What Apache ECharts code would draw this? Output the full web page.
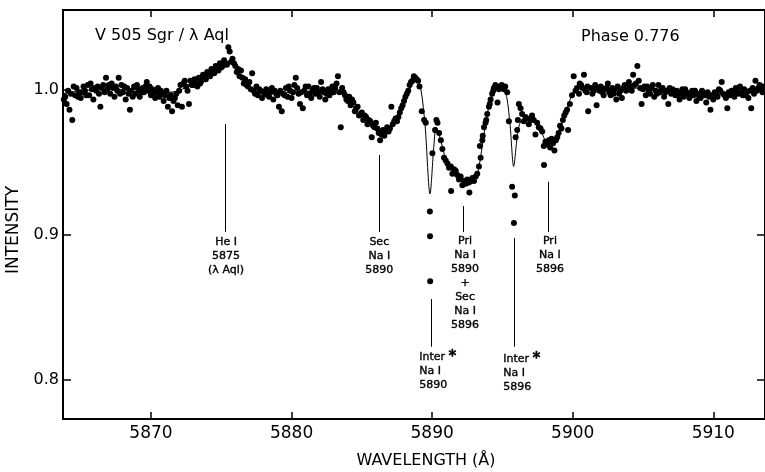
<!DOCTYPE html>
<html><head><meta charset="utf-8">
<script src="https://cdn.jsdelivr.net/npm/echarts@6/dist/echarts.min.js"></script>
<style>html,body{margin:0;padding:0;background:#fff}#c{width:765px;height:472px}</style>
</head><body><div id="c"></div>
<script>
// ---- axis ranges and ticks ----
const X_MIN = 5863.74, X_MAX = 5913.68;
const Y_MIN = 0.7732, Y_MAX = 1.0546;
const xTicks = [5870, 5880, 5890, 5900, 5910];
const yTicks = [0.8, 0.9, 1.0];

// ---- observed spectrum (wavelength Å, relative intensity) ----
const spectrumA = [[5863.9,0.995],[5864.0,0.990],[5864.2,0.986],[5864.3,0.997],[5864.4,0.979],[5864.6,0.996],[5864.7,1.001],[5864.9,0.998],[5865.0,0.994],[5865.2,1.002],[5865.3,0.999],[5865.5,1.003],[5865.6,0.996],[5865.8,1.000],[5865.9,0.993],[5866.1,0.999],[5866.2,1.002],[5866.4,0.988],[5866.5,1.001],[5866.7,0.998],[5866.8,1.008],[5867.0,1.003],[5867.1,0.997],[5867.3,1.001],[5867.4,0.995],[5867.6,0.999],[5867.7,1.008],[5867.9,1.003],[5868.0,0.998],[5868.2,0.993],[5868.3,1.001],[5868.5,0.986],[5868.6,0.999],[5868.8,1.002],[5868.9,0.997],[5869.1,1.000],[5869.2,0.995],[5869.4,1.001],[5869.5,0.998],[5869.7,1.005],[5869.8,0.999],[5870.0,0.996],[5870.1,1.000],[5870.3,0.994],[5870.4,0.998],[5870.6,0.995],[5870.7,0.999],[5870.9,0.992],[5871.0,0.996],[5871.2,0.988],[5871.3,0.994],[5871.5,0.985],[5871.6,0.992],[5871.8,0.997],[5871.9,0.989]];
const spectrumA2 = [[5863.8,0.993],[5864.1,0.999],[5864.5,1.002],[5864.8,0.995],[5865.1,0.998],[5865.4,0.996],[5865.7,1.004],[5866.0,1.001],[5866.3,0.997],[5866.6,1.003],[5866.9,1.000],[5867.2,1.004],[5867.5,1.002],[5867.8,0.997],[5868.1,1.002],[5868.4,0.997],[5868.7,0.995],[5869.0,1.003],[5869.3,0.998],[5869.6,1.002],[5869.9,1.002],[5870.2,0.997],[5870.5,1.001],[5870.8,0.997],[5871.1,0.999],[5871.4,0.996],[5871.7,0.994],[5872.0,0.999]];
const spectrumB = [[5872.1,1.003],[5872.2,0.988],[5872.4,1.006],[5872.5,1.002],[5872.7,0.990],[5872.8,1.006],[5873.0,1.003],[5873.1,1.007],[5873.3,1.002],[5873.4,1.008],[5873.6,1.006],[5873.7,1.010],[5873.9,1.007],[5874.0,1.012],[5874.2,1.009],[5874.3,1.014],[5874.5,1.011],[5874.6,1.016],[5874.8,1.013],[5874.9,1.018],[5875.1,1.016],[5875.2,1.020],[5875.4,1.017],[5875.5,1.029],[5875.6,1.026],[5875.7,1.019],[5875.8,1.021],[5876.0,1.016],[5876.1,1.012],[5876.3,1.009],[5876.4,1.013],[5876.6,1.004],[5876.7,1.007],[5876.9,1.002],[5877.0,1.005],[5877.2,1.011],[5877.3,0.999],[5877.5,1.002]];
const spectrumB2 = [[5872.3,1.004],[5872.6,0.999],[5872.9,1.003],[5873.2,1.005],[5873.5,1.004],[5873.8,1.009],[5874.1,1.011],[5874.4,1.012],[5874.7,1.014],[5875.0,1.015],[5875.3,1.018],[5875.9,1.018],[5876.2,1.014],[5876.5,1.008],[5876.8,1.003],[5877.1,1.000],[5877.4,0.997]];
const spectrumC = [[5877.6,0.996],[5877.8,0.999],[5877.9,0.994],[5878.1,0.997],[5878.2,1.000],[5878.4,0.995],[5878.5,0.998],[5878.7,0.993],[5878.8,0.999],[5879.0,0.996],[5879.1,0.988],[5879.3,0.985],[5879.4,0.997],[5879.6,1.001],[5879.7,0.995],[5879.9,0.999],[5880.0,0.994],[5880.2,1.003],[5880.3,1.008],[5880.5,0.997],[5880.6,0.990],[5880.8,0.987],[5880.9,0.999],[5881.1,0.996],[5881.2,1.002],[5881.4,0.994],[5881.5,0.999],[5881.7,0.997],[5881.8,1.001],[5882.0,0.995],[5882.1,1.005],[5882.3,0.998],[5882.4,0.993],[5882.6,1.000],[5882.7,0.996],[5882.9,1.002],[5883.0,0.998],[5883.2,1.004],[5883.3,1.009]];
const spectrumC2 = [[5877.7,1.000],[5878.0,0.998],[5878.3,0.996],[5878.6,1.001],[5878.9,0.997],[5879.2,0.999],[5879.5,0.996],[5879.8,1.002],[5880.1,0.998],[5880.4,1.001],[5880.7,0.998],[5881.0,1.002],[5881.3,0.997],[5881.6,1.001],[5881.9,0.998],[5882.2,1.000],[5882.5,0.997],[5882.8,0.999],[5883.1,1.001]];
const spectrumD = [[5883.4,0.998],[5883.5,0.974],[5883.6,1.001],[5883.8,0.996],[5883.9,0.993],[5884.1,0.995],[5884.2,0.989],[5884.4,0.991],[5884.5,0.985],[5884.7,0.988],[5884.8,0.982],[5885.0,0.984],[5885.1,0.979],[5885.3,0.981],[5885.4,0.976],[5885.6,0.978],[5885.7,0.967],[5885.9,0.974],[5886.0,0.977],[5886.2,0.970],[5886.3,0.965],[5886.5,0.972],[5886.6,0.968],[5886.8,0.974],[5886.9,0.971],[5887.1,0.988],[5887.2,0.976],[5887.4,0.980],[5887.5,0.978],[5887.7,0.984],[5887.8,0.987],[5888.0,0.992],[5888.1,0.995],[5888.3,0.999],[5888.4,1.003],[5888.6,1.006],[5888.7,1.009],[5888.9,1.007]];
const spectrumD2 = [[5883.7,0.998],[5884.0,0.992],[5884.3,0.993],[5884.6,0.987],[5884.9,0.983],[5885.2,0.982],[5885.5,0.979],[5885.8,0.975],[5886.1,0.973],[5886.4,0.969],[5886.7,0.971],[5887.0,0.973],[5887.3,0.978],[5887.6,0.981],[5887.9,0.989],[5888.2,0.997],[5888.5,1.005],[5888.8,1.008]];
const spectrumE = [[5889.0,1.006],[5889.1,1.002],[5889.26,0.985],[5889.43,0.979],[5889.55,0.977],[5889.84,0.916],[5889.85,0.899],[5889.86,0.868],[5890.02,0.956],[5890.21,0.972],[5890.3,0.979],[5890.38,0.977],[5890.5,0.970],[5890.62,0.965],[5890.73,0.959],[5890.85,0.953],[5890.97,0.951],[5891.09,0.949],[5891.2,0.946],[5891.33,0.947],[5891.35,0.930],[5891.44,0.942],[5891.56,0.945],[5891.68,0.944],[5891.79,0.941],[5891.91,0.938],[5892.03,0.940],[5892.15,0.934],[5892.27,0.937],[5892.39,0.935],[5892.5,0.938],[5892.62,0.936],[5892.65,0.929],[5892.74,0.937],[5892.86,0.939],[5892.98,0.937],[5893.1,0.940],[5893.21,0.942],[5893.33,0.947],[5893.4,0.961],[5893.45,0.953],[5893.57,0.965],[5893.6,0.968],[5893.69,0.974],[5893.8,0.977],[5893.85,0.979],[5893.92,0.983],[5894.04,0.988],[5894.1,0.990],[5894.16,0.993],[5894.27,0.997],[5894.35,0.999],[5894.39,1.001],[5894.5,1.003],[5894.63,1.002],[5894.65,0.991],[5894.75,1.000],[5894.87,1.001],[5894.95,1.003],[5895.1,1.000],[5895.2,1.002],[5895.34,0.998],[5895.46,0.978],[5895.69,0.933],[5895.82,0.908],[5895.88,0.927],[5895.94,0.967],[5896.05,0.972],[5896.1,0.979],[5896.17,0.990],[5896.29,0.987],[5896.4,0.983],[5896.52,0.978],[5896.64,0.981],[5896.76,0.980],[5896.88,0.976],[5897.0,0.979],[5897.11,0.982],[5897.23,0.979],[5897.35,0.969],[5897.47,0.977],[5897.59,0.974],[5897.71,0.973],[5897.83,0.971],[5897.94,0.961],[5897.96,0.948],[5898.06,0.964],[5898.18,0.962],[5898.3,0.965],[5898.4,0.960],[5898.5,0.966],[5898.6,0.963],[5898.7,0.958],[5898.8,0.965],[5898.9,0.967],[5899.0,0.970],[5899.1,0.975],[5899.2,0.973],[5899.3,0.979],[5899.4,0.982],[5899.5,0.984],[5899.6,0.986],[5899.67,0.972],[5899.8,0.990],[5899.95,0.996],[5900.07,1.009],[5900.2,0.999],[5900.3,1.001],[5900.45,0.997],[5900.6,1.003],[5900.8,1.010],[5900.9,0.999]];
const spectrumF = [[5901.0,0.998],[5901.1,0.985],[5901.3,1.001],[5901.4,0.997],[5901.6,1.003],[5901.7,0.989],[5901.9,0.999],[5902.0,1.002],[5902.2,0.996],[5902.3,1.000],[5902.5,1.004],[5902.6,0.998],[5902.8,1.001],[5902.9,0.997],[5903.1,0.993],[5903.2,1.002],[5903.4,0.999],[5903.5,0.994],[5903.7,1.003],[5903.8,0.999],[5904.0,1.005],[5904.1,1.002],[5904.3,1.010],[5904.4,1.003],[5904.6,1.016],[5904.7,1.006],[5904.9,0.990],[5905.0,1.000],[5905.2,0.996],[5905.3,1.002],[5905.5,0.997],[5905.6,1.001],[5905.8,0.995],[5905.9,0.999],[5906.1,1.003],[5906.2,0.998],[5906.4,1.001],[5906.5,0.995],[5906.7,0.999],[5906.8,0.990],[5907.0,0.997],[5907.1,1.000],[5907.3,0.996],[5907.4,0.999],[5907.6,0.993],[5907.7,0.998],[5907.9,0.995],[5908.0,1.000],[5908.2,0.997],[5908.3,0.994],[5908.5,0.999],[5908.6,0.996],[5908.8,0.992],[5908.9,0.997],[5909.1,0.994],[5909.2,0.999],[5909.4,0.996],[5909.5,0.991],[5909.7,0.995],[5909.8,0.986],[5910.0,0.993],[5910.1,0.998],[5910.3,0.995],[5910.4,1.000],[5910.6,1.005],[5910.7,0.997],[5910.9,0.994],[5911.0,0.987],[5911.2,0.996],[5911.3,0.999],[5911.5,0.995],[5911.6,1.001],[5911.8,0.997],[5911.9,1.002],[5912.1,0.996],[5912.2,1.000],[5912.4,0.998],[5912.5,0.994],[5912.7,0.987],[5912.8,1.001],[5913.0,1.006],[5913.1,0.999],[5913.3,1.003],[5913.4,1.000]];
const spectrumF2 = [[5900.5,1.004],[5900.7,1.001],[5901.05,1.002],[5901.5,0.999],[5901.8,1.001],[5902.1,0.998],[5902.4,1.001],[5902.7,0.996],[5903.0,1.000],[5903.3,0.997],[5903.6,1.001],[5903.9,1.002],[5904.2,0.999],[5904.5,1.004],[5904.8,1.001],[5905.1,1.002],[5905.4,0.999],[5905.7,1.003],[5906.0,0.997],[5906.3,1.000],[5906.6,0.998],[5906.9,1.001],[5907.2,0.998],[5907.5,0.996],[5907.8,1.000],[5908.1,0.998],[5908.4,0.996],[5908.7,0.999],[5909.0,0.995],[5909.3,0.997],[5909.6,0.998],[5909.9,0.996],[5910.2,0.997],[5910.5,0.999],[5910.8,0.996],[5911.1,0.998],[5911.4,0.997],[5911.7,0.999],[5912.0,0.998],[5912.3,0.996],[5912.6,0.999],[5912.9,0.997],[5913.2,1.001],[5913.5,0.998],[5913.6,1.002]];

// ---- fitted profile ----
const fitProfile = [[5863.74,0.997],[5865,0.999],[5867,1.000],[5869,1.000],[5871,0.998],[5872,0.999],[5873,1.005],[5874,1.011],[5875,1.016],[5875.6,1.019],[5876,1.016],[5876.5,1.008],[5877,1.002],[5877.5,0.998],[5880,0.998],[5883,1.000],[5883.5,0.998],[5884,0.993],[5884.5,0.987],[5885,0.982],[5885.5,0.977],[5886,0.974],[5886.5,0.972],[5887,0.974],[5887.5,0.980],[5888,0.990],[5888.5,1.002],[5888.9,1.007],[5889.2,1.000],[5889.5,0.975],[5889.85,0.928],[5890.1,0.958],[5890.28,0.974],[5890.5,0.969],[5891,0.951],[5891.5,0.942],[5892,0.937],[5892.5,0.935],[5893,0.937],[5893.3,0.945],[5893.7,0.970],[5894.1,0.991],[5894.5,1.001],[5895,1.002],[5895.3,0.995],[5895.55,0.975],[5895.8,0.947],[5896.05,0.967],[5896.3,0.978],[5896.8,0.980],[5897.3,0.977],[5897.8,0.970],[5898.2,0.963],[5898.6,0.963],[5899,0.970],[5899.5,0.984],[5899.9,0.995],[5900.3,1.001],[5901,1.001],[5903,1.000],[5905,1.001],[5907,0.998],[5909,0.996],[5911,0.997],[5913.68,1.000]];

// ---- line identifications ----
const idTexts = ['He I\n5875\n(λ Aql)', 'Sec\nNa I\n5890', 'Pri\nNa I\n5890\n+\nSec\nNa I\n5896', 'Pri\nNa I\n5896', 'Inter {s|*}\nNa I\n5890', 'Inter {s|*}\nNa I\n5896'];
const idLineX = [5875.26, 5886.22, 5892.22, 5898.26, 5889.92, 5895.84];
const idLineTop = [0.9761, 0.9548, 0.9197, 0.9364, 0.8557, 0.8977];
const idLineBottom = [0.9020, 0.9018, 0.9018, 0.9018, 0.8229, 0.8229];
const idTextX = [5875.34, 5886.24, 5892.34, 5898.38, 5889.08, 5895.06];
const idTextY = [0.8998, 0.8998, 0.9005, 0.9005, 0.8206, 0.8195];
const idAlign = ['center', 'center', 'center', 'center', 'left', 'left'];

const FONT = 'DejaVu Sans';
const observed = [].concat(spectrumA, spectrumA2, spectrumB, spectrumB2, spectrumC, spectrumC2, spectrumD, spectrumD2, spectrumE, spectrumF, spectrumF2);

const chart = echarts.init(document.getElementById('c'), null, {renderer: 'canvas'});
const axisLineStyle = {color: '#000', width: 2};
const tickStyle = {color: '#000', width: 1.5};
const labelStyle = {show: true, position: 'bottom', distance: 0, color: '#000', opacity: 1, fontFamily: FONT, fontSize: 11, lineHeight: 14,
  textBorderColor: '#000', textBorderWidth: 0.35,
  rich: {s: {fontFamily: FONT, fontSize: 15, fontWeight: 'bold', color: '#000', lineHeight: 14, verticalAlign: 'middle'}}};

chart.setOption({
  animation: false,
  backgroundColor: '#fff',
  title: [
    {text: 'V 505 Sgr / λ Aql', left: 95, top: 28, padding: 0, textStyle: {fontFamily: FONT, fontSize: 16, fontWeight: 'normal', color: '#000'}},
    {text: 'Phase 0.776', left: 581, top: 29, padding: 0, textStyle: {fontFamily: FONT, fontSize: 16, fontWeight: 'normal', color: '#000'}}
  ],
  grid: {left: 63, right: 0, top: 10, bottom: 53},
  xAxis: [
    {type: 'value', min: X_MIN, max: X_MAX, position: 'bottom',
     axisLine: {show: true, onZero: false, lineStyle: axisLineStyle},
     axisTick: {show: true, inside: true, length: 7, customValues: xTicks, lineStyle: tickStyle},
     axisLabel: {show: true, customValues: xTicks, formatter: v => String(Math.round(v)), color: '#000', fontFamily: FONT, fontSize: 17, margin: 6},
     splitLine: {show: false}},
    {type: 'value', min: X_MIN, max: X_MAX, position: 'top',
     axisLine: {show: true, onZero: false, lineStyle: axisLineStyle},
     axisTick: {show: true, inside: true, length: 7, customValues: xTicks, lineStyle: tickStyle},
     axisLabel: {show: false}, splitLine: {show: false}}
  ],
  yAxis: [
    {type: 'value', min: Y_MIN, max: Y_MAX, position: 'left',
     axisLine: {show: true, onZero: false, lineStyle: axisLineStyle},
     axisTick: {show: true, inside: true, length: 8, customValues: yTicks, lineStyle: tickStyle},
     axisLabel: {show: true, customValues: yTicks, formatter: v => v.toFixed(1), color: '#000', fontFamily: FONT, fontSize: 16, margin: 4},
     splitLine: {show: false}},
    {type: 'value', min: Y_MIN, max: Y_MAX, position: 'right',
     axisLine: {show: true, onZero: false, lineStyle: axisLineStyle},
     axisTick: {show: true, inside: true, length: 8, customValues: yTicks, lineStyle: tickStyle},
     axisLabel: {show: false}, splitLine: {show: false}}
  ],
  graphic: [
    {type: 'text', x: 14, y: 230, rotation: Math.PI / 2, style: {text: 'INTENSITY', font: '17px "DejaVu Sans"', fill: '#000', align: 'center', verticalAlign: 'middle'}},
    {type: 'text', x: 426, y: 461, style: {text: 'WAVELENGTH (Å)', font: '16px "DejaVu Sans"', fill: '#000', align: 'center', verticalAlign: 'middle'}}
  ],
  series: [
    {type: 'line', data: fitProfile, showSymbol: false, symbol: 'none', smooth: 0.3,
     lineStyle: {color: '#000', width: 1}, z: 2, silent: true},
    {type: 'scatter', data: observed, symbol: 'circle', symbolSize: 6,
     itemStyle: {color: '#000', opacity: 1}, z: 3, silent: true},
    {type: 'scatter', symbolSize: 0, silent: true, z: 4,
     data: idTexts.map((t, i) => ({value: [idTextX[i], idTextY[i]], label: Object.assign({}, labelStyle, {formatter: t, align: idAlign[i]})})),
     itemStyle: {color: '#000'},
     label: labelStyle,
     markLine: {silent: true, symbol: ['none', 'none'], label: {show: false},
       lineStyle: {color: '#000', width: 1, type: 'solid', opacity: 1},
       data: idLineX.map((x, i) => [{coord: [x, idLineTop[i]]}, {coord: [x, idLineBottom[i]]}])}}
  ]
});
</script></body></html>
